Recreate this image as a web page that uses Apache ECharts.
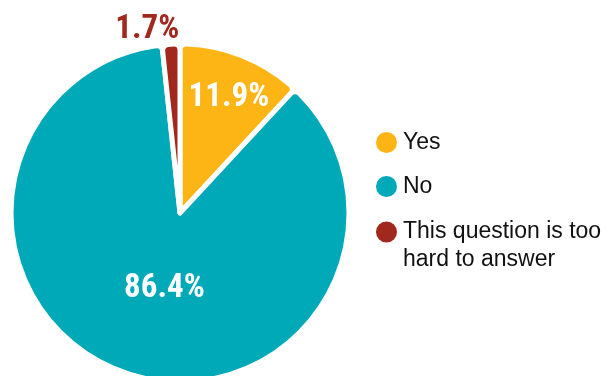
<!DOCTYPE html>
<html>
<head>
<meta charset="utf-8">
<script src="https://cdn.jsdelivr.net/npm/echarts@6/dist/echarts.min.js"></script>
<style>
html,body{margin:0;padding:0;background:#fff;}
#c{width:613px;height:376px;}
</style>
</head>
<body>
<div id="c"></div>
<script>
var categories = ['Yes', 'No', 'This question is too hard to answer'];
var values = [11.9, 86.4, 1.7];
var colors = ['#FDB515', '#00A9B8', '#A1281C'];

var labelFont = '"Roboto Condensed", "Noto Sans Condensed", "Open Sans Condensed", Roboto, sans-serif';
var labelCfg = [
  { color: '#ffffff', offset: [17, -34] },
  { color: '#ffffff', offset: [12, -7] },
  { color: '#A1281C', offset: [-28, -96] }
];

var data = categories.map(function (n, i) {
  return {
    name: n,
    value: values[i],
    itemStyle: { color: colors[i] },
    label: {
      show: true,
      position: 'inside',
      color: labelCfg[i].color,
      offset: labelCfg[i].offset,
      fontFamily: labelFont,
      fontWeight: 'bold',
      fontSize: 33,
      formatter: function (p) { return p.value.toFixed(1) + '%'; }
    }
  };
});

var legendText = {
  fontFamily: '"Liberation Sans", Arial, sans-serif',
  fontSize: 23,
  color: '#111111',
  lineHeight: 28
};

function wrap(name, maxChars) {
  var words = name.split(' '), lines = [], cur = '';
  words.forEach(function (w) {
    if (cur && (cur + ' ' + w).length > maxChars) { lines.push(cur); cur = w; }
    else { cur = cur ? cur + ' ' + w : w; }
  });
  if (cur) lines.push(cur);
  return lines.map(function (l) { return '{a|' + l + '}'; }).join('\n');
}

function mkLegend(name, top, twoLine) {
  var ts = Object.assign({}, legendText);
  ts.rich = { a: Object.assign({}, legendText) };
  if (twoLine) ts.padding = [28, 0, 0, 0];
  return {
    data: [name],
    orient: 'vertical',
    left: 374,
    top: top,
    padding: 0,
    icon: 'circle',
    itemWidth: 23,
    itemHeight: 23,
    itemGap: 0,
    itemTextGap: 9,
    selectedMode: false,
    formatter: function (n) { return wrap(n, 20); },
    textStyle: ts
  };
}

var chart = echarts.init(document.getElementById('c'), null, { renderer: 'canvas' });
chart.setOption({
  animation: false,
  legend: [
    mkLegend(categories[0], 128.5),
    mkLegend(categories[1], 172.5),
    mkLegend(categories[2], 190, true)
  ],
  series: [{
    type: 'pie',
    center: [180, 213],
    radius: [0, 169],
    startAngle: 90,
    clockwise: true,
    avoidLabelOverlap: false,
    labelLine: { show: false },
    itemStyle: { borderColor: '#ffffff', borderWidth: 5, borderRadius: 6 },
    emphasis: { disabled: true },
    data: data
  }]
});
</script>
</body>
</html>
